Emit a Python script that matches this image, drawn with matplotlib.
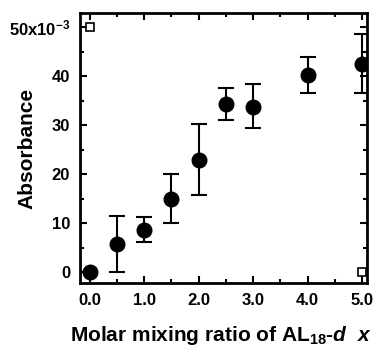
import numpy as np
import matplotlib.pyplot as plt
from matplotlib.ticker import MultipleLocator, FixedLocator

plt.rcParams['font.family'] = ['Liberation Sans', 'DejaVu Sans']
plt.rcParams['font.weight'] = 'bold'
plt.rcParams['mathtext.fontset'] = 'custom'
plt.rcParams['mathtext.rm'] = 'Liberation Sans:bold'
plt.rcParams['mathtext.it'] = 'Liberation Sans:bold:italic'

# Data (absorbance in units of 1e-3)
ratio = [0.0, 0.5, 1.0, 1.5, 2.0, 2.5, 3.0, 4.0, 5.0]
absorb = [0.0, 5.7, 8.7, 15.0, 23.0, 34.3, 33.8, 40.2, 42.5]
err_low = [0.0, 5.7, 2.5, 5.0, 7.2, 3.3, 4.3, 3.7, 6.0]
err_high = [0.0, 5.8, 2.5, 5.0, 7.3, 3.2, 4.5, 3.6, 6.0]

xticks = [0, 1, 2, 3, 4, 5]
xticklabels = ['0.0', '1.0', '2.0', '3.0', '4.0', '5.0']
yticks = [0, 10, 20, 30, 40, 50]
yticklabels = ['0', '10', '20', '30', '40', r'50x10$^{-3}$']

fig = plt.figure(figsize=(3.8, 3.47), dpi=100)
ax = fig.add_axes([0.21, 0.184, 0.756, 0.779])

ax.errorbar(ratio, absorb, yerr=[err_low, err_high], fmt='o', color='k',
            markersize=10.5, elinewidth=1.5, capsize=5.5, capthick=1.5)
# small open squares in the corners of the original plot
ax.plot([0.0, 5.0], [50, 0], 's', mfc='white', mec='k', markersize=6, mew=1.2)

ax.set_xlim(-0.18, 5.09)
ax.set_ylim(-2.2, 52.9)
ax.xaxis.set_major_locator(FixedLocator(xticks))
ax.set_xticklabels(xticklabels)
ax.xaxis.set_minor_locator(MultipleLocator(0.5))
ax.yaxis.set_major_locator(FixedLocator(yticks))
ax.set_yticklabels(yticklabels)
ax.yaxis.set_minor_locator(MultipleLocator(5))

ax.tick_params(which='both', direction='in', top=True, right=True, width=1.5, labelsize=12)
ax.tick_params(which='major', length=5, pad=7)
ax.tick_params(which='minor', length=3)
for s in ax.spines.values():
    s.set_linewidth(2)

ax.set_xlabel(r'Molar mixing ratio of AL$_{18}$-$d$  $x$', fontsize=15, fontweight='bold')
ax.set_ylabel('Absorbance', fontsize=15, fontweight='bold')
ax.xaxis.set_label_coords(0.49, -0.15)
ax.yaxis.set_label_coords(-0.15, 0.5)

fig.savefig('out.png', dpi=100)
